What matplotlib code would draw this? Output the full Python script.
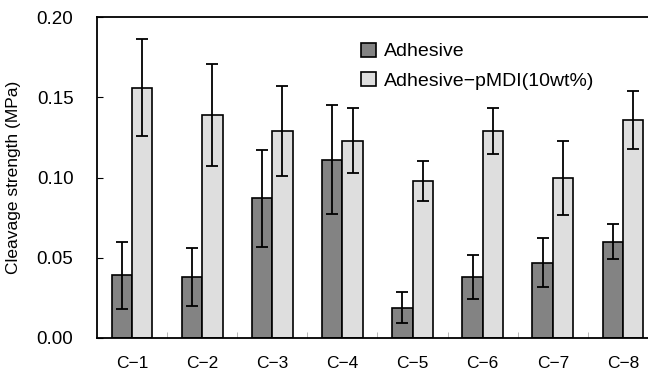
import numpy as np
import matplotlib
matplotlib.use("Agg")
import matplotlib.pyplot as plt

plt.rcParams["font.family"] = ["Liberation Sans", "DejaVu Sans"]

categories = ["C\u22121", "C\u22122", "C\u22123", "C\u22124", "C\u22125", "C\u22126", "C\u22127", "C\u22128"]
adhesive = [0.039, 0.038, 0.087, 0.111, 0.019, 0.038, 0.047, 0.060]
adhesive_err = [0.021, 0.018, 0.030, 0.034, 0.0095, 0.014, 0.0155, 0.011]
pmdi = [0.156, 0.139, 0.129, 0.123, 0.098, 0.129, 0.0995, 0.136]
pmdi_err = [0.030, 0.032, 0.028, 0.020, 0.0125, 0.0145, 0.023, 0.018]

W, H = 648, 374
fig = plt.figure(figsize=(W / 100, H / 100), dpi=100)
ax = fig.add_axes([97 / W, 36 / H, 561 / W, 321 / H])

x = np.arange(len(categories))
bw = 0.29
err_kw = dict(ecolor="black", elinewidth=1.3, capsize=4, capthick=1.3)
ax.bar(x - bw / 2, adhesive, bw, yerr=adhesive_err, color="#838383",
       edgecolor="black", linewidth=1.2, label="Adhesive", error_kw=err_kw)
ax.bar(x + bw / 2, pmdi, bw, yerr=pmdi_err, color="#dedede",
       edgecolor="black", linewidth=1.2, label="Adhesive\u2212pMDI(10wt%)",
       error_kw=err_kw)

ax.set_xlim(-0.5, len(categories) - 0.5)
ax.set_ylim(0, 0.20)
ax.set_yticks([0, 0.05, 0.10, 0.15, 0.20])
ax.set_yticklabels(["0.00", "0.05", "0.10", "0.15", "0.20"])
ax.set_xticks(x)
ax.set_xticklabels(categories)
ax.set_xticks(x[:-1] + 0.5, minor=True)
ax.tick_params(axis="x", which="major", length=0, pad=13, labelsize=12.5)
ax.tick_params(axis="x", which="minor", direction="in", length=4, color="#aaaaaa")
ax.tick_params(axis="y", direction="in", length=4, pad=17, labelsize=13.5)
ax.set_ylabel("Cleavage strength (MPa)", fontsize=12.5, labelpad=11)
for s in ax.spines.values():
    s.set_linewidth(1.3)

ax.legend(loc="upper left", bbox_to_anchor=(0.44, 0.975), frameon=False,
          fontsize=14, handlelength=0.75, handleheight=0.75,
          handletextpad=0.4, labelspacing=0.6)

fig.savefig("out.png", dpi=100)
